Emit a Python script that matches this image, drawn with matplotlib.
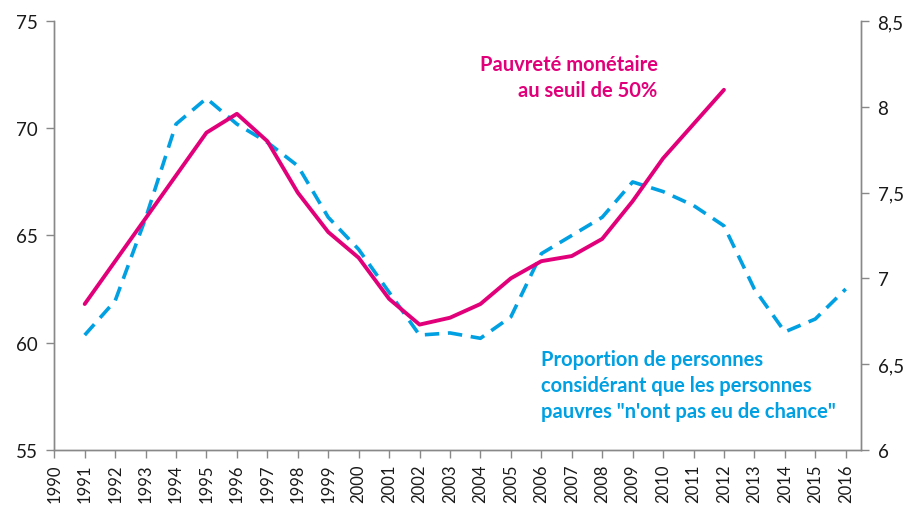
import matplotlib.pyplot as plt
from matplotlib.ticker import FuncFormatter

plt.rcParams['font.family'] = ['Lato', 'DejaVu Sans']

years = list(range(1991, 2017))
# share of people saying the poor "n'ont pas eu de chance" (left axis, %)
malchance = [60.35, 61.95, 65.8, 70.2, 71.4, 70.2, 69.35, 68.25, 65.85, 64.35,
             62.35, 60.35, 60.45, 60.2, 61.2, 64.15, 65.0, 65.85, 67.5, 67.05,
             66.4, 65.45, 62.5, 60.5, 61.1, 62.5]
# monetary poverty at 50% threshold (right axis, %)
pauv_years = list(range(1991, 2013))
pauvrete = [6.85, 7.1, 7.35, 7.6, 7.85, 7.96, 7.8, 7.5, 7.27, 7.12, 6.88,
            6.73, 6.77, 6.85, 7.0, 7.1, 7.13, 7.23, 7.45, 7.7, 7.9, 8.1]
xlabels = [str(y) for y in range(1990, 2017)]

pink = '#E2007A'
blue = '#00A0E2'
grey = '#888888'

fig = plt.figure(figsize=(9.12, 5.06), dpi=100)
ax = fig.add_axes([0.0595, 0.1093, 0.8845, 0.8467])
ax2 = ax.twinx()

ax.plot(years, malchance, color=blue, lw=2.6, ls=(0, (4, 2.4)))
ax2.plot(pauv_years, pauvrete, color=pink, lw=2.8, solid_capstyle='round')

ax.set_xlim(1990, 2016.5)
ax.set_ylim(55, 75)
ax.set_yticks([55, 60, 65, 70, 75])
ax2.set_ylim(6, 8.5)
ax2.set_yticks([6, 6.5, 7, 7.5, 8, 8.5])
ax2.yaxis.set_major_formatter(FuncFormatter(lambda v, p: ('%g' % v).replace('.', ',')))

ax.set_xticks(range(1990, 2017))
ax.set_xticklabels(xlabels, rotation=90, fontsize=12)

for a in (ax, ax2):
    a.spines['top'].set_visible(False)
    for s in ('left', 'right', 'bottom'):
        a.spines[s].set_color(grey)
        a.spines[s].set_linewidth(1.0)
    a.tick_params(colors=grey, labelcolor='#1a1a1a', length=6, width=1.0)
ax.tick_params(axis='y', labelsize=13.5, pad=6)
ax2.tick_params(axis='y', labelsize=13.5, pad=6)
ax.tick_params(axis='x', pad=4)

ax.text(0.748, 0.87, 'Pauvreté monétaire\nau seuil de 50%', transform=ax.transAxes,
        ha='right', va='center', color=pink, fontsize=14.5, fontweight='bold',
        linespacing=1.35)
ax.text(0.603, 0.151, 'Proportion de personnes\nconsidérant que les personnes\npauvres "n\'ont pas eu de chance"',
        transform=ax.transAxes, ha='left', va='center', color=blue, fontsize=14.5,
        fontweight='bold', linespacing=1.35)

fig.savefig('out.png', dpi=100)
